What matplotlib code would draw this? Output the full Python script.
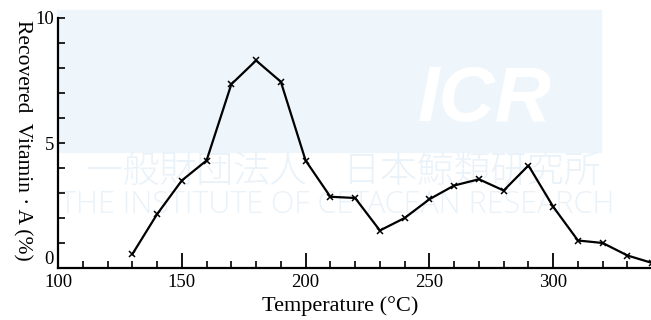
import matplotlib
matplotlib.use('Agg')
import matplotlib.pyplot as plt
from matplotlib.patches import Rectangle
from matplotlib.ticker import MultipleLocator

# temperature (deg C) and recovered vitamin A (%)
temperature = [130, 140, 150, 160, 170, 180, 190, 200, 210, 220, 230,
               240, 250, 260, 270, 280, 290, 300, 310, 320, 330, 340]
recovered = [0.55, 2.15, 3.5, 4.3, 7.35, 8.3, 7.45, 4.3, 2.85, 2.8, 1.5,
             2.0, 2.75, 3.3, 3.55, 3.1, 4.1, 2.45, 1.1, 1.0, 0.5, 0.2]

xticks = [100, 150, 200, 250, 300]
yticks = [0, 5, 10]

serif = 'Liberation Serif'

fig = plt.figure(figsize=(6.51, 3.2), dpi=100)

# faint watermark behind the plot
W, H = 651.0, 320.0
fig.patches.append(Rectangle((57 / W, 1 - 152 / H), 544 / W, 142 / H,
                             transform=fig.transFigure, color='#eef5fb',
                             zorder=0))
fig.text(485 / W, 1 - 100 / H, 'ICR', color='white', fontsize=56,
         fontweight='bold', style='italic', family='Liberation Sans',
         ha='center', va='center', zorder=1)
fig.text(86 / W, 1 - 172 / H, '一般財団法人　日本鯨類研究所', color='#e9f2f9',
         fontsize=26.5, family=['Noto Sans CJK JP', 'DejaVu Sans'],
         fontweight='light', ha='left', va='center', zorder=1)
fig.text(60 / W, 1 - 205 / H, 'THE INSTITUTE OF CETACEAN RESEARCH',
         color='#e9f2f9', fontsize=22, family='Open Sans',
         fontweight='light', ha='left', va='center', zorder=1)

ax = fig.add_axes([58 / W, 1 - 268 / H, 1 - 58 / W, 250 / H])
ax.set_zorder(5)
ax.patch.set_alpha(0)

ax.plot(temperature, recovered, color='black', lw=1.6,
        marker='x', ms=4, mew=1.1, clip_on=True)

ax.set_xlim(100, 339.5)
ax.set_ylim(0, 10)

ax.spines['top'].set_visible(False)
ax.spines['right'].set_visible(False)
ax.spines['left'].set_linewidth(1.6)
ax.spines['bottom'].set_linewidth(1.6)

ax.set_xticks(xticks)
ax.set_yticks(yticks)
ax.xaxis.set_minor_locator(MultipleLocator(10))
ax.yaxis.set_minor_locator(MultipleLocator(1))
ax.tick_params(axis='x', which='major', direction='in', length=11, width=1.3,
               labelsize=13.5, pad=4)
ax.tick_params(axis='x', which='minor', direction='in', length=5, width=1.2)
ax.tick_params(axis='y', which='major', direction='in', length=5, width=1.2,
               labelsize=13.5, pad=3)
ax.tick_params(axis='y', which='minor', direction='in', length=5, width=1.2)
for lab in ax.get_xticklabels() + ax.get_yticklabels():
    lab.set_family(serif)
ax.get_yticklabels()[0].set_va('bottom')

fig.text(340 / W, 1 - 306 / H, 'Temperature (°C)', family=serif,
         fontsize=16, ha='center', va='center')
fig.text(22 / W, 1 - 140 / H, 'Recovered  Vitamin \u00b7 A (%)', family=serif,
         fontsize=15.5, rotation=270, ha='center', va='center')

fig.savefig('out.png', dpi=100)
